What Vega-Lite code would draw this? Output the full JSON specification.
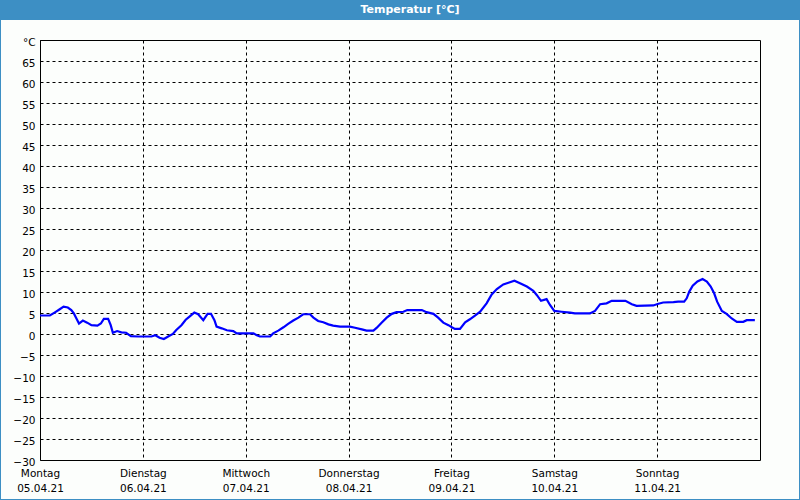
{
  "$schema": "https://vega.github.io/schema/vega-lite/v6.json",
  "width": 720,
  "height": 420,
  "autosize": "none",
  "padding": {"left": 40, "right": 40, "top": 40, "bottom": 40},
  "background": "#fcfefc",
  "title": {
    "text": "Temperatur [°C]",
    "color": "#ffffff",
    "font": "DejaVu Sans",
    "fontSize": 11,
    "fontWeight": "bold",
    "anchor": "middle",
    "frame": "group",
    "baseline": "middle",
    "offset": -22,
    "dx": 10
  },
  "config": {
    "view": {"stroke": "#000000", "strokeWidth": 1},
    "axis": {
      "domain": false,
      "ticks": false,
      "grid": true,
      "gridColor": "#000000",
      "gridDash": [3, 3],
      "gridOpacity": 1,
      "gridWidth": 1,
      "labelColor": "#000000",
      "labelFont": "DejaVu Sans",
      "labelFontSize": 10.5,
      "title": null
    }
  },
  "layer": [
    {
      "data": {
        "values": [
          {"time": "2021-04-05T00:00:00Z", "temp": 4.4},
          {"time": "2021-04-05T02:18:00Z", "temp": 4.4},
          {"time": "2021-04-05T03:24:00Z", "temp": 5.1},
          {"time": "2021-04-05T04:36:00Z", "temp": 5.9},
          {"time": "2021-04-05T05:30:00Z", "temp": 6.5},
          {"time": "2021-04-05T06:30:00Z", "temp": 6.3},
          {"time": "2021-04-05T07:18:00Z", "temp": 5.7},
          {"time": "2021-04-05T07:54:00Z", "temp": 4.9},
          {"time": "2021-04-05T08:30:00Z", "temp": 3.7},
          {"time": "2021-04-05T09:06:00Z", "temp": 2.5},
          {"time": "2021-04-05T10:00:00Z", "temp": 3.2},
          {"time": "2021-04-05T11:00:00Z", "temp": 2.7},
          {"time": "2021-04-05T12:00:00Z", "temp": 2.1},
          {"time": "2021-04-05T13:24:00Z", "temp": 2.0},
          {"time": "2021-04-05T14:12:00Z", "temp": 2.5},
          {"time": "2021-04-05T14:54:00Z", "temp": 3.6},
          {"time": "2021-04-05T15:54:00Z", "temp": 3.6},
          {"time": "2021-04-05T16:30:00Z", "temp": 2.1},
          {"time": "2021-04-05T17:00:00Z", "temp": 0.3},
          {"time": "2021-04-05T18:00:00Z", "temp": 0.7},
          {"time": "2021-04-05T19:00:00Z", "temp": 0.4},
          {"time": "2021-04-05T20:06:00Z", "temp": 0.3},
          {"time": "2021-04-05T21:12:00Z", "temp": -0.5},
          {"time": "2021-04-05T22:54:00Z", "temp": -0.6},
          {"time": "2021-04-06T02:00:00Z", "temp": -0.6},
          {"time": "2021-04-06T02:54:00Z", "temp": -0.3},
          {"time": "2021-04-06T03:54:00Z", "temp": -0.9},
          {"time": "2021-04-06T04:54:00Z", "temp": -1.2},
          {"time": "2021-04-06T05:54:00Z", "temp": -0.6},
          {"time": "2021-04-06T07:00:00Z", "temp": 0.0},
          {"time": "2021-04-06T07:48:00Z", "temp": 0.95},
          {"time": "2021-04-06T09:00:00Z", "temp": 2.1},
          {"time": "2021-04-06T10:00:00Z", "temp": 3.4},
          {"time": "2021-04-06T10:36:00Z", "temp": 3.9},
          {"time": "2021-04-06T12:00:00Z", "temp": 5.1},
          {"time": "2021-04-06T12:54:00Z", "temp": 4.7},
          {"time": "2021-04-06T14:06:00Z", "temp": 3.3},
          {"time": "2021-04-06T15:06:00Z", "temp": 4.8},
          {"time": "2021-04-06T15:54:00Z", "temp": 4.8},
          {"time": "2021-04-06T16:42:00Z", "temp": 3.3},
          {"time": "2021-04-06T17:12:00Z", "temp": 1.75},
          {"time": "2021-04-06T18:24:00Z", "temp": 1.35},
          {"time": "2021-04-06T19:36:00Z", "temp": 0.9},
          {"time": "2021-04-06T21:06:00Z", "temp": 0.7},
          {"time": "2021-04-06T21:54:00Z", "temp": 0.15},
          {"time": "2021-04-07T00:12:00Z", "temp": 0.15},
          {"time": "2021-04-07T01:48:00Z", "temp": 0.15},
          {"time": "2021-04-07T02:36:00Z", "temp": -0.3},
          {"time": "2021-04-07T03:18:00Z", "temp": -0.6},
          {"time": "2021-04-07T05:42:00Z", "temp": -0.6},
          {"time": "2021-04-07T06:24:00Z", "temp": 0.15},
          {"time": "2021-04-07T07:36:00Z", "temp": 0.8},
          {"time": "2021-04-07T08:48:00Z", "temp": 1.6},
          {"time": "2021-04-07T09:54:00Z", "temp": 2.4},
          {"time": "2021-04-07T11:06:00Z", "temp": 3.2},
          {"time": "2021-04-07T12:18:00Z", "temp": 3.9},
          {"time": "2021-04-07T13:24:00Z", "temp": 4.7},
          {"time": "2021-04-07T15:00:00Z", "temp": 4.7},
          {"time": "2021-04-07T15:48:00Z", "temp": 3.9},
          {"time": "2021-04-07T16:54:00Z", "temp": 3.1},
          {"time": "2021-04-07T18:06:00Z", "temp": 2.8},
          {"time": "2021-04-07T19:18:00Z", "temp": 2.3},
          {"time": "2021-04-07T20:24:00Z", "temp": 2.0},
          {"time": "2021-04-07T22:00:00Z", "temp": 1.75},
          {"time": "2021-04-08T00:18:00Z", "temp": 1.75},
          {"time": "2021-04-08T01:30:00Z", "temp": 1.5},
          {"time": "2021-04-08T03:06:00Z", "temp": 1.1},
          {"time": "2021-04-08T04:12:00Z", "temp": 0.8},
          {"time": "2021-04-08T05:48:00Z", "temp": 0.8},
          {"time": "2021-04-08T06:36:00Z", "temp": 1.5},
          {"time": "2021-04-08T07:42:00Z", "temp": 2.7},
          {"time": "2021-04-08T08:54:00Z", "temp": 3.9},
          {"time": "2021-04-08T10:06:00Z", "temp": 4.8},
          {"time": "2021-04-08T11:12:00Z", "temp": 5.2},
          {"time": "2021-04-08T12:48:00Z", "temp": 5.3},
          {"time": "2021-04-08T13:42:00Z", "temp": 5.7},
          {"time": "2021-04-08T17:06:00Z", "temp": 5.7},
          {"time": "2021-04-08T18:12:00Z", "temp": 5.2},
          {"time": "2021-04-08T19:48:00Z", "temp": 4.8},
          {"time": "2021-04-08T20:54:00Z", "temp": 3.9},
          {"time": "2021-04-08T22:06:00Z", "temp": 2.7},
          {"time": "2021-04-08T23:18:00Z", "temp": 2.1},
          {"time": "2021-04-09T00:06:00Z", "temp": 1.6},
          {"time": "2021-04-09T00:48:00Z", "temp": 1.2},
          {"time": "2021-04-09T02:00:00Z", "temp": 1.2},
          {"time": "2021-04-09T03:12:00Z", "temp": 2.8},
          {"time": "2021-04-09T04:18:00Z", "temp": 3.5},
          {"time": "2021-04-09T05:30:00Z", "temp": 4.4},
          {"time": "2021-04-09T06:42:00Z", "temp": 5.3},
          {"time": "2021-04-09T08:12:00Z", "temp": 7.3},
          {"time": "2021-04-09T09:24:00Z", "temp": 9.4},
          {"time": "2021-04-09T10:36:00Z", "temp": 10.7},
          {"time": "2021-04-09T12:06:00Z", "temp": 11.8},
          {"time": "2021-04-09T13:18:00Z", "temp": 12.2},
          {"time": "2021-04-09T14:42:00Z", "temp": 12.7},
          {"time": "2021-04-09T16:00:00Z", "temp": 12.1},
          {"time": "2021-04-09T17:36:00Z", "temp": 11.3},
          {"time": "2021-04-09T19:06:00Z", "temp": 10.3},
          {"time": "2021-04-09T19:54:00Z", "temp": 9.3},
          {"time": "2021-04-09T20:54:00Z", "temp": 7.9},
          {"time": "2021-04-09T22:12:00Z", "temp": 8.3},
          {"time": "2021-04-09T23:00:00Z", "temp": 6.9},
          {"time": "2021-04-10T00:00:00Z", "temp": 5.5},
          {"time": "2021-04-10T01:42:00Z", "temp": 5.3},
          {"time": "2021-04-10T03:42:00Z", "temp": 5.1},
          {"time": "2021-04-10T04:48:00Z", "temp": 4.9},
          {"time": "2021-04-10T08:18:00Z", "temp": 4.9},
          {"time": "2021-04-10T09:30:00Z", "temp": 5.5},
          {"time": "2021-04-10T10:42:00Z", "temp": 7.1},
          {"time": "2021-04-10T12:12:00Z", "temp": 7.3},
          {"time": "2021-04-10T13:24:00Z", "temp": 7.9},
          {"time": "2021-04-10T16:36:00Z", "temp": 7.9},
          {"time": "2021-04-10T18:06:00Z", "temp": 7.1},
          {"time": "2021-04-10T19:12:00Z", "temp": 6.7},
          {"time": "2021-04-10T23:06:00Z", "temp": 6.8},
          {"time": "2021-04-11T00:18:00Z", "temp": 7.2},
          {"time": "2021-04-11T01:24:00Z", "temp": 7.5},
          {"time": "2021-04-11T03:48:00Z", "temp": 7.6},
          {"time": "2021-04-11T04:54:00Z", "temp": 7.7},
          {"time": "2021-04-11T06:18:00Z", "temp": 7.7},
          {"time": "2021-04-11T06:54:00Z", "temp": 8.5},
          {"time": "2021-04-11T07:30:00Z", "temp": 10.1},
          {"time": "2021-04-11T08:18:00Z", "temp": 11.5},
          {"time": "2021-04-11T09:24:00Z", "temp": 12.5},
          {"time": "2021-04-11T10:36:00Z", "temp": 13.1},
          {"time": "2021-04-11T11:36:00Z", "temp": 12.5},
          {"time": "2021-04-11T12:30:00Z", "temp": 11.3},
          {"time": "2021-04-11T13:18:00Z", "temp": 9.7},
          {"time": "2021-04-11T14:00:00Z", "temp": 7.7},
          {"time": "2021-04-11T15:06:00Z", "temp": 5.5},
          {"time": "2021-04-11T16:12:00Z", "temp": 4.8},
          {"time": "2021-04-11T17:24:00Z", "temp": 3.7},
          {"time": "2021-04-11T18:36:00Z", "temp": 2.9},
          {"time": "2021-04-11T20:06:00Z", "temp": 2.9},
          {"time": "2021-04-11T20:54:00Z", "temp": 3.3},
          {"time": "2021-04-11T22:48:00Z", "temp": 3.3}
        ]
      },
      "mark": {"type": "line", "color": "#0000ff", "strokeWidth": 2.2, "strokeJoin": "miter"},
      "encoding": {
        "x": {
          "field": "time",
          "type": "temporal",
          "scale": {
            "type": "utc",
            "domain": [
              {"year": 2021, "month": 4, "date": 5, "utc": true},
              {"year": 2021, "month": 4, "date": 12, "utc": true}
            ],
            "nice": false
          },
          "axis": {
            "values": [
              {"year": 2021, "month": 4, "date": 5, "utc": true},
              {"year": 2021, "month": 4, "date": 6, "utc": true},
              {"year": 2021, "month": 4, "date": 7, "utc": true},
              {"year": 2021, "month": 4, "date": 8, "utc": true},
              {"year": 2021, "month": 4, "date": 9, "utc": true},
              {"year": 2021, "month": 4, "date": 10, "utc": true},
              {"year": 2021, "month": 4, "date": 11, "utc": true}
            ],
            "tickCount": 20,
            "labelExpr": "[['Sonntag','Montag','Dienstag','Mittwoch','Donnerstag','Freitag','Samstag'][utcday(datum.value)], utcFormat(datum.value, '%d.%m.%y')]",
            "labelAlign": "center",
            "labelBaseline": "top",
            "labelPadding": 8,
            "labelLineHeight": 15,
            "labelFlush": false,
            "labelOverlap": false
          }
        },
        "y": {
          "field": "temp",
          "type": "quantitative",
          "scale": {"domain": [-30, 70], "nice": false, "zero": false},
          "axis": {
            "values": [-30, -25, -20, -15, -10, -5, 0, 5, 10, 15, 20, 25, 30, 35, 40, 45, 50, 55, 60, 65, 70],
            "tickCount": 30,
            "labelExpr": "datum.value == 70 ? '°C' : datum.label",
            "labelPadding": 5,
            "labelOffset": 2,
            "labelFlush": false,
            "labelOverlap": false,
            "encode": {"labels": {"update": {"dy": {"signal": "datum.value == 70 ? 5 : 0"}}}}
          }
        }
      }
    },
    {
      "data": {"values": [{"part": "titlebar"}]},
      "mark": {"type": "rect", "clip": false, "color": "#3d8fc4"},
      "encoding": {
        "x": {"datum": {"year": 2021, "month": 4, "date": 4, "hours": 14, "minutes": 40, "utc": true}, "type": "temporal"},
        "x2": {"datum": {"year": 2021, "month": 4, "date": 12, "hours": 9, "minutes": 20, "utc": true}},
        "y": {"datum": 74.762, "type": "quantitative"},
        "y2": {"datum": 79.6}
      }
    },
    {
      "data": {"values": [{"part": "border"}]},
      "mark": {"type": "rect", "clip": false, "fill": null, "fillOpacity": 0, "stroke": "#3d8fc4", "strokeWidth": 2},
      "encoding": {
        "x": {"datum": {"year": 2021, "month": 4, "date": 4, "hours": 14, "minutes": 40, "utc": true}, "type": "temporal"},
        "x2": {"datum": {"year": 2021, "month": 4, "date": 12, "hours": 9, "minutes": 20, "utc": true}},
        "y": {"datum": -39.524, "type": "quantitative"},
        "y2": {"datum": 79.524}
      }
    }
  ]
}
